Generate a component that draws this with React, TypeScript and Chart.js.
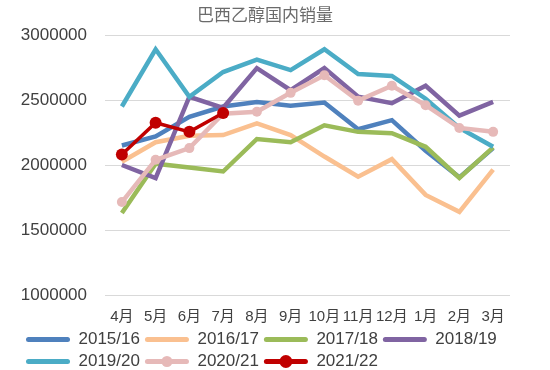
import React, { useEffect, useRef } from 'react';
import { Chart, registerables } from 'chart.js';

Chart.register(...registerables);

const TITLE = '巴西乙醇国内销量';
const months = ['4月', '5月', '6月', '7月', '8月', '9月', '10月', '11月', '12月', '1月', '2月', '3月'];
const yTicks = [1000000, 1500000, 2000000, 2500000, 3000000];

const s1516 = [2150000, 2220000, 2370000, 2450000, 2485000, 2455000, 2480000, 2275000, 2345000, 2110000, 1905000, 2130000];
const s1617 = [2025000, 2175000, 2225000, 2230000, 2320000, 2230000, 2065000, 1910000, 2045000, 1770000, 1640000, 1965000];
const s1718 = [1630000, 2010000, 1980000, 1950000, 2200000, 2175000, 2305000, 2255000, 2245000, 2140000, 1900000, 2135000];
const s1819 = [2000000, 1900000, 2525000, 2440000, 2745000, 2575000, 2745000, 2525000, 2475000, 2610000, 2380000, 2485000];
const s1920 = [2450000, 2890000, 2525000, 2715000, 2810000, 2730000, 2890000, 2700000, 2685000, 2510000, 2285000, 2140000];
const s2021 = [1715000, 2040000, 2130000, 2395000, 2410000, 2555000, 2690000, 2495000, 2610000, 2460000, 2285000, 2255000];
const s2122 = [2080000, 2325000, 2255000, 2400000, null, null, null, null, null, null, null, null];

const seriesNames = ['2015/16', '2016/17', '2017/18', '2018/19', '2019/20', '2020/21', '2021/22'];
const seriesData = [s1516, s1617, s1718, s1819, s1920, s2021, s2122];
const seriesColors = ['#4F81BD', '#FAC090', '#9BBB59', '#8064A2', '#4BACC6', '#E6B9B8', '#C00000'];
const seriesPoints = [0, 0, 0, 0, 0, 5, 6];
const seriesWidths = [4.5, 4.5, 4.5, 4.5, 4.5, 4.5, 3.5];

const FONT = '"Liberation Sans", "Noto Sans CJK SC", sans-serif';
const LEGEND_BOX = 44;

export default function App() {
  const ref = useRef<HTMLCanvasElement>(null);

  useEffect(() => {
    if (!ref.current) return;

    const titlePlugin = {
      id: 'customTitle',
      afterDraw(chart: any) {
        const ctx = chart.ctx;
        ctx.save();
        ctx.font = '17px "Noto Sans CJK SC", sans-serif';
        ctx.fillStyle = '#6b6b6b';
        ctx.textAlign = 'center';
        ctx.textBaseline = 'middle';
        ctx.fillText(TITLE, 265, 15);
        ctx.restore();
      },
    };

    const legendMarkers = {
      id: 'legendMarkers',
      afterDraw(chart: any) {
        const legend = chart.legend;
        if (!legend || !legend.legendHitBoxes) return;
        const ctx = chart.ctx;
        legend.legendItems.forEach((item: any, i: number) => {
          const r = seriesPoints[item.datasetIndex];
          if (!r) return;
          const box = legend.legendHitBoxes[i];
          ctx.save();
          ctx.beginPath();
          ctx.fillStyle = seriesColors[item.datasetIndex];
          ctx.arc(box.left + LEGEND_BOX / 2, box.top + box.height / 2, r + 0.5, 0, Math.PI * 2);
          ctx.fill();
          ctx.restore();
        });
      },
    };

    const chart = new Chart(ref.current, {
      type: 'line',
      data: {
        labels: months,
        datasets: seriesNames.map((name, i) => ({
          label: name,
          data: seriesData[i],
          borderColor: seriesColors[i],
          backgroundColor: seriesColors[i],
          borderWidth: seriesWidths[i],
          pointRadius: seriesPoints[i],
          pointHoverRadius: seriesPoints[i],
          pointBackgroundColor: seriesColors[i],
          pointBorderColor: seriesColors[i],
          pointBorderWidth: 0,
          tension: 0,
          fill: false,
          spanGaps: false,
          order: seriesNames.length - i,
        })),
      },
      options: {
        animation: false,
        responsive: true,
        maintainAspectRatio: false,
        layout: { padding: { left: 21, right: 0, top: 35, bottom: -10 } },
        font: { family: FONT },
        plugins: {
          title: { display: false },
          tooltip: { enabled: false },
          legend: {
            position: 'bottom',
            align: 'start',
            labels: {
              font: { family: FONT, size: 17 },
              color: '#404040',
              boxWidth: LEGEND_BOX,
              boxHeight: 5,
              padding: 5,
              sort: (a: any, b: any) => a.datasetIndex - b.datasetIndex,
              generateLabels: (chart: any) => {
                const items = Chart.defaults.plugins.legend.labels.generateLabels(chart);
                return items.map((it: any) => ({ ...it, lineWidth: 0, borderRadius: 2.5 }));
              },
            },
          },
        },
        scales: {
          x: {
            offset: true,
            grid: { display: false, drawTicks: false },
            border: { display: false },
            ticks: {
              font: { family: FONT, size: 15 },
              color: '#404040',
              padding: 13,
              maxRotation: 0,
              autoSkip: false,
            },
            afterFit: (scale: any) => {
              scale.height = 31;
            },
          },
          y: {
            min: 1000000,
            max: 3000000,
            afterBuildTicks: (scale: any) => {
              scale.ticks = yTicks.map((v) => ({ value: v }));
            },
            grid: { color: '#D9D9D9', lineWidth: 1, drawTicks: false },
            border: { display: false },
            ticks: {
              font: { family: FONT, size: 17 },
              color: '#404040',
              padding: 18,
              callback: (v: any) => String(v),
            },
            afterFit: (scale: any) => {
              scale.width = 84;
            },
          },
          yRight: {
            position: 'right',
            min: 1000000,
            max: 3000000,
            grid: { display: false, drawTicks: false },
            border: { display: false },
            ticks: { display: false },
            afterFit: (scale: any) => {
              scale.width = 40;
            },
          },
        },
      },
      plugins: [titlePlugin, legendMarkers],
    });

    return () => chart.destroy();
  }, []);

  return (
    <div style={{ position: 'absolute', left: 0, top: 0, width: 550, height: 370, background: '#fff' }}>
      <canvas ref={ref} />
    </div>
  );
}
